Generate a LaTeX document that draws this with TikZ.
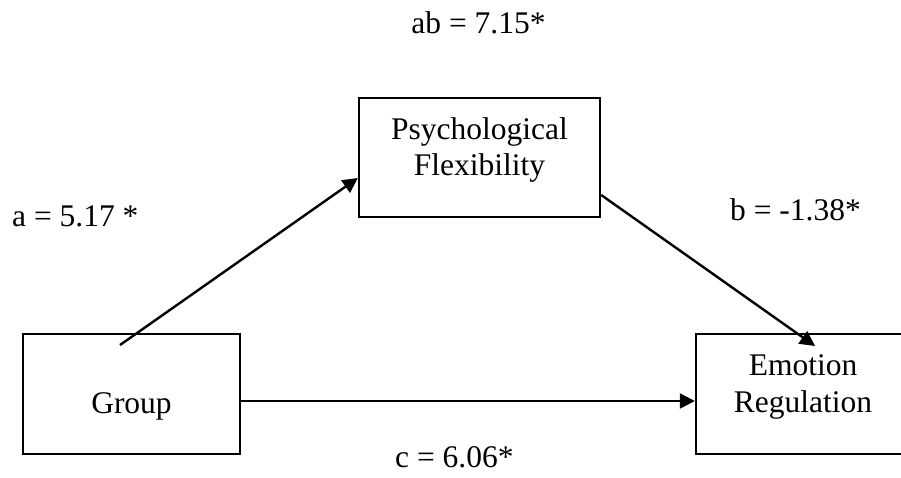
\documentclass[tikz,border=0pt]{standalone}
\usepackage{fontspec}
\setmainfont{Liberation Serif}
\usetikzlibrary{arrows.meta}
\tikzset{
  box/.style={draw=black, line width=2.4pt, inner sep=0pt, fill=none},
  lbl/.style={inner sep=0pt, font=\fontsize{31.5}{36}\selectfont},
  arr/.style={draw=black, line width=2.4pt, -{Triangle[length=15pt,width=15pt]}},
}
\begin{document}
\begin{tikzpicture}[x=1pt,y=-1pt]
\useasboundingbox (0,0) rectangle (901,477);
\clip (0,0) rectangle (901,477);
\fill[white] (0,0) rectangle (901,477);
% boxes
\node[box, minimum width=217pt, minimum height=120pt] (gr) at (131.5,394) {};
\node[box, minimum width=241pt, minimum height=119pt] (pf) at (479.5,157.5) {};
\node[box, minimum width=214pt, minimum height=120pt] (er) at (803,394) {};
% box texts
\node[lbl, anchor=base] (grt) at (131.5,413) {Group};
\node[lbl, anchor=base] (pft1) at (479.5,139) {Psychological};
\node[lbl, anchor=base] (pft2) at (479.5,175) {Flexibility};
\node[lbl, anchor=base] (ert1) at (803,375) {Emotion};
\node[lbl, anchor=base] (ert2) at (803,412) {Regulation};
% connector anchors
\coordinate (ya) at (0,178);
\coordinate (yb) at (0,195);
\coordinate (yc) at (0,401);
\coordinate (astart) at (120,345);
\coordinate (bend) at (815,346);
% connectors
\draw[arr] (astart) -- (pf.west |- ya);
\draw[arr] (pf.east |- yb) -- (bend);
\draw[arr] (gr.east |- yc) -- (er.west |- yc);
% path labels
\node[lbl, anchor=base] (lab) at (478.5,33) {ab = 7.15*};
\node[lbl, anchor=base west] (la) at (12,226) {a = 5.17 *};
\node[lbl, anchor=base west] (lb) at (730,220) {b = -1.38*};
\node[lbl, anchor=base west] (lc) at (395,467) {c = 6.06*};
\end{tikzpicture}
\end{document}
